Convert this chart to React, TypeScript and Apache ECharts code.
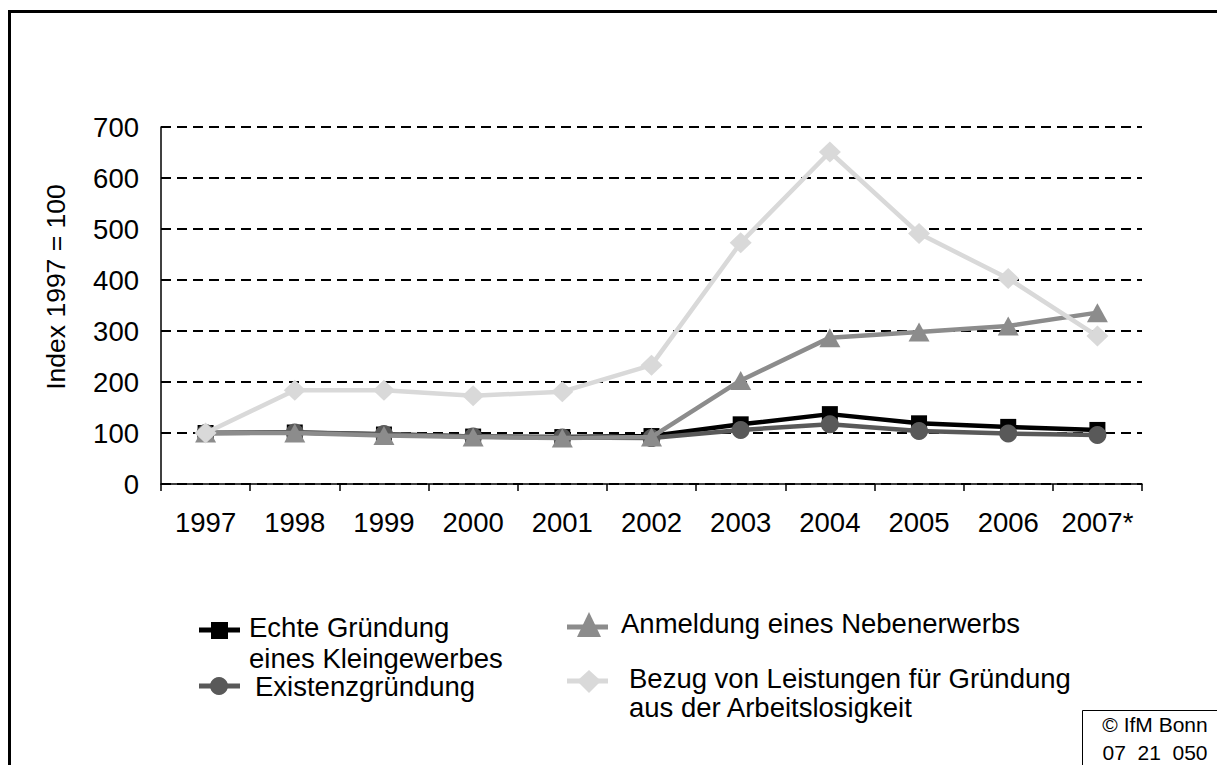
import React, { useEffect, useRef } from "react";
import * as echarts from "echarts";

const years = ["1997", "1998", "1999", "2000", "2001", "2002", "2003", "2004", "2005", "2006", "2007*"];
const echteGruendung = [100, 101, 97, 93, 92, 94, 117, 137, 119, 112, 106];
const existenzGruendung = [100, 101, 98, 93, 91, 90, 106, 117, 104, 99, 96];
const nebenerwerb = [100, 100, 95, 92, 90, 92, 203, 287, 298, 310, 336];
const arbeitslosigkeit = [100, 184, 184, 173, 181, 233, 473, 651, 491, 403, 290];
const yTicks = [0, 100, 200, 300, 400, 500, 600, 700];

const FONT = "'Liberation Sans', Arial, sans-serif";
const FS = 27.5;

export default function App() {
  const ref = useRef<HTMLDivElement>(null);
  useEffect(() => {
    if (!ref.current) return;
    const chart = echarts.init(ref.current, null, { renderer: "svg" });
    const mk = (name: string, data: number[], color: string, symbol: string, size: any, z: number) => ({
      name,
      type: "line",
      data,
      symbol,
      symbolSize: size,
      z,
      lineStyle: { color, width: 4.5 },
      itemStyle: { color },
    });
    const legendText = (x: number, y: number, text: string) => ({
      type: "text",
      x,
      y,
      style: { text, font: `${FS}px ${FONT}`, fill: "#000", textVerticalAlign: "middle" },
    });
    chart.setOption({
      animation: false,
      backgroundColor: "#fff",
      grid: { left: 161, right: 75, top: 127, bottom: 281 },
      xAxis: {
        type: "category",
        data: years,
        boundaryGap: true,
        axisLine: { lineStyle: { color: "#000", width: 1.5 } },
        axisTick: { show: true, interval: 0, length: 7, lineStyle: { color: "#000", width: 1.5 } },
        axisLabel: { color: "#000", fontSize: FS, fontFamily: FONT, margin: 24, interval: 0, hideOverlap: false },
        splitLine: { show: false },
      },
      yAxis: {
        type: "value",
        min: yTicks[0],
        max: yTicks[yTicks.length - 1],
        interval: 100,
        axisLine: { show: true, lineStyle: { color: "#000", width: 1.5 } },
        axisTick: { show: false },
        axisLabel: { color: "#000", fontSize: FS, fontFamily: FONT, margin: 22 },
        splitLine: { show: true, lineStyle: { color: "#000", width: 2, type: [10, 6] } },
      },
      series: [
        mk("Echte Gründung eines Kleingewerbes", echteGruendung, "#000000", "rect", 16, 2),
        mk("Existenzgründung", existenzGruendung, "#595959", "circle", 18, 3),
        mk("Anmeldung eines Nebenerwerbs", nebenerwerb, "#8c8c8c", "triangle", [21, 19], 4),
        mk("Bezug von Leistungen für Gründung aus der Arbeitslosigkeit", arbeitslosigkeit, "#d9d9d9", "diamond", [22, 21], 5),
      ],
      graphic: [
        {
          type: "rect",
          shape: { x: 9.5, y: 11.5, width: 1230, height: 780 },
          style: { fill: "none", stroke: "#000", lineWidth: 3 },
          silent: true,
        },
        {
          type: "text",
          x: 56,
          y: 287,
          rotation: Math.PI / 2,
          style: { text: "Index 1997 = 100", font: `${FS - 1}px ${FONT}`, fill: "#000", textAlign: "center", textVerticalAlign: "middle" },
        },
        // legend: Echte Gründung
        { type: "line", shape: { x1: 199, y1: 630, x2: 240, y2: 630 }, style: { stroke: "#000", lineWidth: 5 } },
        { type: "rect", shape: { x: 211, y: 622, width: 17, height: 17 }, style: { fill: "#000" } },
        legendText(249, 627, "Echte Gründung"),
        legendText(249, 658, "eines Kleingewerbes"),
        // Existenzgründung
        { type: "line", shape: { x1: 199, y1: 686, x2: 240, y2: 686 }, style: { stroke: "#595959", lineWidth: 5 } },
        { type: "circle", shape: { cx: 219, cy: 686, r: 9 }, style: { fill: "#595959" } },
        legendText(255, 686, "Existenzgründung"),
        // Nebenerwerb
        { type: "line", shape: { x1: 567, y1: 627, x2: 608, y2: 627 }, style: { stroke: "#8c8c8c", lineWidth: 5 } },
        { type: "polygon", shape: { points: [[589, 612], [601, 637], [577, 637]] }, style: { fill: "#8c8c8c" } },
        legendText(621, 623, "Anmeldung eines Nebenerwerbs"),
        // Arbeitslosigkeit
        { type: "line", shape: { x1: 567, y1: 681, x2: 608, y2: 681 }, style: { stroke: "#d9d9d9", lineWidth: 5 } },
        { type: "polygon", shape: { points: [[589, 670], [601, 681], [589, 693], [577, 681]] }, style: { fill: "#d9d9d9" } },
        legendText(629, 678, "Bezug von Leistungen für Gründung"),
        legendText(629, 707, "aus der Arbeitslosigkeit"),
        // copyright box
        {
          type: "rect",
          shape: { x: 1082.5, y: 710.5, width: 200, height: 100 },
          style: { fill: "#fff", stroke: "#000", lineWidth: 1 },
        },
        {
          type: "text",
          x: 1155,
          y: 724,
          style: { text: "© IfM Bonn", font: `21px ${FONT}`, fill: "#000", textAlign: "center", textVerticalAlign: "middle" },
        },
        {
          type: "text",
          x: 1155,
          y: 752,
          style: { text: "07  21  050", font: `21px ${FONT}`, fill: "#000", textAlign: "center", textVerticalAlign: "middle" },
        },
      ],
    });
    return () => chart.dispose();
  }, []);
  return <div ref={ref} style={{ position: "fixed", left: 0, top: 0, width: 1217, height: 765 }} />;
}
